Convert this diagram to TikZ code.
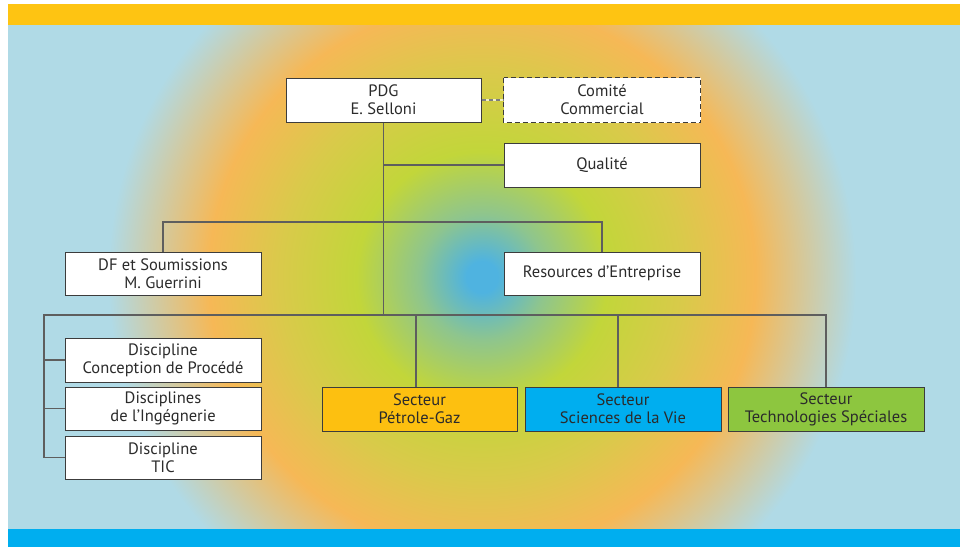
\documentclass[tikz,border=0pt]{standalone}
\usepackage{fontspec}
\setmainfont{PT Sans}
\definecolor{cblue}{HTML}{4FB3E0}
\definecolor{cteal}{HTML}{8EC58E}
\definecolor{cgreen}{HTML}{C2D63A}
\definecolor{cyel}{HTML}{D9CA4A}
\definecolor{corange}{HTML}{F6B856}
\definecolor{clblue}{HTML}{B0DAE6}
\definecolor{topband}{HTML}{FEC412}
\definecolor{botband}{HTML}{00AEEF}
\definecolor{boxline}{HTML}{3C3C3C}
\definecolor{connline}{HTML}{5E5E5E}
\definecolor{txt}{HTML}{2B2B2B}
\definecolor{petfill}{HTML}{FDC010}
\definecolor{scifill}{HTML}{00AEEF}
\definecolor{techfill}{HTML}{8DC63F}
\pgfdeclareradialshading{bgshade}{\pgfpoint{0bp}{0bp}}{color(0bp)=(cblue); color(0.7bp)=(cblue); color(2.8bp)=(cteal); color(5.6bp)=(cgreen); color(9.0bp)=(cyel); color(12.2bp)=(corange); color(16.7bp)=(clblue); color(50bp)=(clblue)}
\begin{document}
\begin{tikzpicture}[x=1pt,y=-1pt,
  box/.style={draw=boxline, line width=1pt, fill=white, minimum width=196pt, minimum height=44pt, inner sep=0pt, align=center, text=txt, font=\fontsize{16.5}{18}\selectfont},
  conn/.style={draw=connline, line width=1.3pt},
  dashconn/.style={draw=connline!80, line width=1.3pt, dash pattern=on 4pt off 3pt}]
\useasboundingbox (0,0) rectangle (960,547);
% background
\fill[white] (0,0) rectangle (960,547);
\fill[topband] (8,4) rectangle (960,25);
\fill[botband] (8,528) rectangle (960,547);
\begin{scope}
  \clip (8,25) rectangle (960,528);
  \shade[shading=bgshade] (482,277) circle (560);
\end{scope}
% nodes
\node[box, minimum width=195pt] (pdg) at (383.5,100) {PDG\\E. Selloni};
\node[box, draw=white] (com) at (602,100) {Comité\\Commercial};
\node[box] (qual) at (602,165) {Qualité};
\node[box, minimum height=43pt] (df) at (163,273.5) {DF et Soumissions\\M. Guerrini};
\node[box, minimum height=43pt] (res) at (602,273.5) {Resources d’Entreprise};
\node[box] (d1) at (163,360) {Discipline\\Conception de Procédé};
\node[box, minimum height=43pt] (d2) at (163,408.5) {Disciplines\\de l’Ingégnerie};
\node[box, minimum height=43pt] (d3) at (163,457.5) {Discipline\\TIC};
\node[box, fill=petfill, minimum width=195pt] (pet) at (419.5,409) {Secteur\\Pétrole-Gaz};
\node[box, fill=scifill] (sci) at (623,409) {Secteur\\Sciences de la Vie};
\node[box, fill=techfill] (tech) at (826,409) {Secteur\\Technologies Spéciales};
\draw[boxline, line width=1pt, dash pattern=on 5pt off 3pt] (com.north west) rectangle (com.south east);
% connectors
\coordinate (y1) at (0,222);
\coordinate (y2) at (0,315);
\coordinate (lx) at (44,315);
\coordinate (b1) at (pdg.south |- y1);
\draw[conn] (pdg.south) -- (pdg.south |- y2);
\draw[conn] (pdg.south |- qual.west) -- (qual.west);
\draw[conn] (df.north) |- (b1) -| (res.north);
\draw[conn] (d3.west) -| (lx) -| (tech.north);
\draw[conn] (d1.west) -- (d1.west -| lx);
\draw[conn] (d2.west) -- (d2.west -| lx);
\draw[conn] ([xshift=-3.5pt]pet.north) -- ([xshift=-3.5pt]pet.north |- y2);
\draw[conn] ([xshift=-5pt]sci.north) -- ([xshift=-5pt]sci.north |- y2);
\draw[white, line width=1.3pt, opacity=0.7] (pdg.east) -- (com.west);
\draw[dashconn] (pdg.east) -- (com.west);
\end{tikzpicture}
\end{document}
